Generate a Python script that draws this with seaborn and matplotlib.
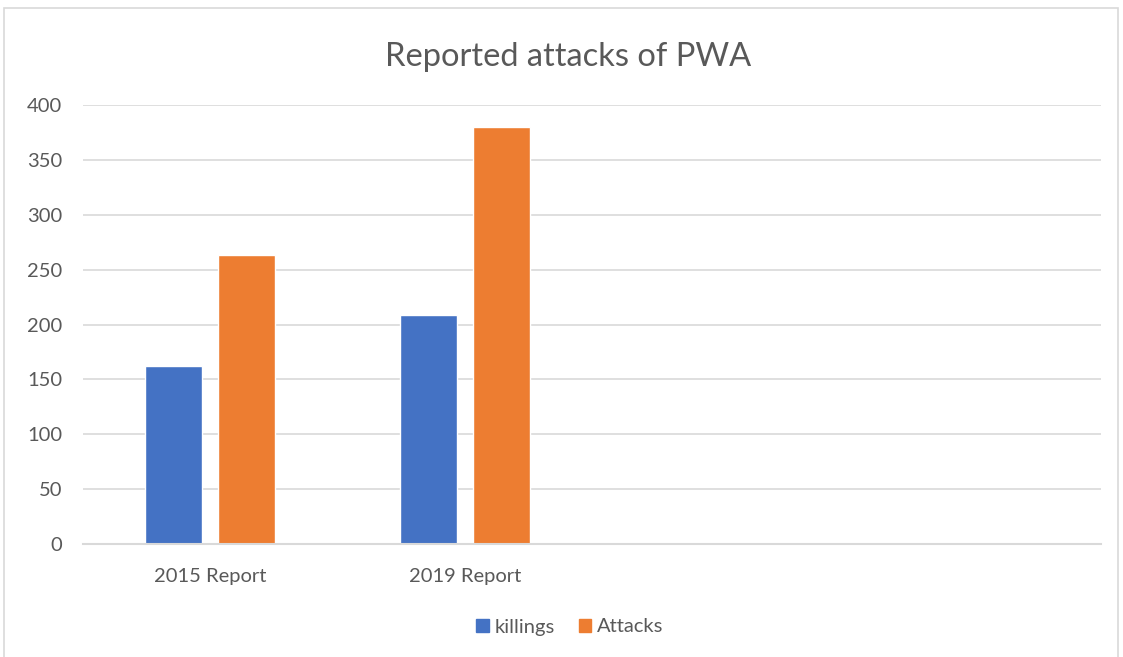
import matplotlib
matplotlib.use("Agg")
import matplotlib.pyplot as plt
import seaborn as sns
import pandas as pd
from matplotlib.patches import Rectangle

categories = ["2015 Report", "2019 Report"]
series_names = ["killings", "Attacks"]
killings = [162, 209]
attacks = [263, 380]
yticks = [0, 50, 100, 150, 200, 250, 300, 350, 400]

df = pd.DataFrame({
    "category": categories * 2,
    "series": [series_names[0]] * len(categories) + [series_names[1]] * len(categories),
    "value": killings + attacks,
})

sns.set_theme(style="white")
plt.rcParams['font.family'] = ['Lato', 'DejaVu Sans']
text_color = "#595959"

fig = plt.figure(figsize=(11.23, 6.57), dpi=100)
ax = fig.add_axes([83 / 1123, 1 - 544 / 657, 1018 / 1123, 439 / 657])

sns.barplot(data=df, x="category", y="value", hue="series", order=categories,
            hue_order=series_names, palette=["#4472C4", "#ED7D31"],
            width=0.574, gap=0.215, ax=ax, legend=False, saturation=1)

ax.set_xlim(-0.5, 3.5)
ax.set_ylim(0, 400)
ax.set_yticks(yticks)
ax.set_yticklabels([str(v) for v in yticks])
ax.grid(axis="y", color="#D9D9D9", linewidth=1.2)
ax.set_axisbelow(True)
for s in ["top", "right", "left"]:
    ax.spines[s].set_visible(False)
ax.spines["bottom"].set_color("#D9D9D9")
ax.spines["bottom"].set_linewidth(1.5)
ax.tick_params(axis="both", length=0, labelsize=14.5, colors=text_color)
ax.tick_params(axis="y", pad=15)
ax.tick_params(axis="x", pad=17)
ax.set_xlabel("")
ax.set_ylabel("")

fig.text(568 / 1123, 1 - 57 / 657, "Reported attacks of PWA", ha="center", va="center",
         fontsize=23.5, color=text_color)

# legend
handles = [Rectangle((0, 0), 1, 1, color="#4472C4"), Rectangle((0, 0), 1, 1, color="#ED7D31")]
fig.legend(handles, series_names, loc="center", bbox_to_anchor=(570 / 1123, 1 - 627 / 657),
           ncol=2, frameon=False, fontsize=14.5, handlelength=0.6, handleheight=0.6,
           handletextpad=0.3, columnspacing=1.2, labelcolor=text_color)

# chart border
fig.add_artist(Rectangle((4 / 1123, -0.01), 1114 / 1123, 1 - 8 / 657 + 0.01,
                         transform=fig.transFigure, fill=False, edgecolor="#D9D9D9", linewidth=1.2))

fig.savefig("out.png", dpi=100)
